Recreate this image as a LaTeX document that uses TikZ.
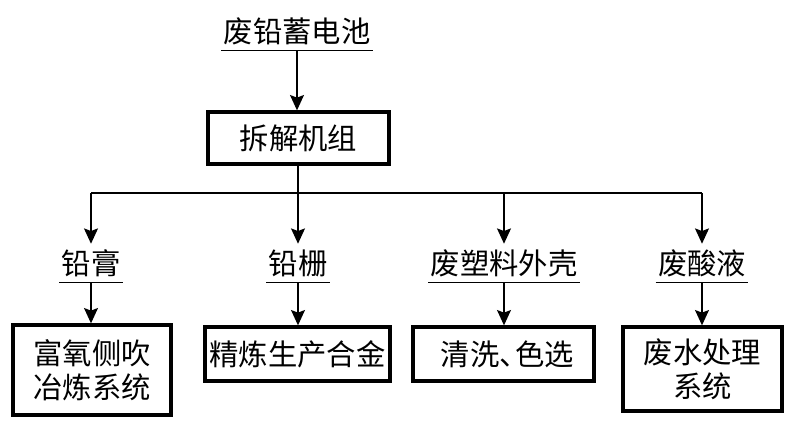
\documentclass[tikz,border=0pt]{standalone}
\usepackage{fontspec}
\newfontfamily\cjk{Noto Sans CJK SC}
\usetikzlibrary{arrows.meta}
\begin{document}
\begin{tikzpicture}[x=0.75pt,y=-0.75pt,
  every node/.style={font=\cjk\fontsize{22}{25.5}\selectfont, align=center},
  procbox/.style={draw, line width=2.5pt, inner sep=0pt},
  lab/.style={inner xsep=1.5pt, inner ysep=0pt, minimum height=28.5pt},
  conn/.style={line width=1.1pt},
  arr/.style={conn, -{Stealth[length=11.5pt, width=10.5pt, inset=2pt]}},
  uline/.style={line width=1.1pt}]
\useasboundingbox (0,0) rectangle (793,427);
% top
\node[lab] (t) at (297,31) {废铅蓄电池};
\draw[uline] (t.south west) -- (t.south east);
\node[procbox, minimum width=135.75pt, minimum height=39pt] (m) at (298.5,138) {拆解机组};
\draw[arr] (t.south) -- (t.south |- m.north);
% trunk
\coordinate (j) at (298,193);
\coordinate (hl) at (91,193);
\coordinate (hr) at (702,193);
\draw[conn] (m.south -| j) -- (j);
\draw[conn] (hl) -- (hr);
% labels
\node[lab] (l1) at (91,263) {铅膏};
\node[lab] (l2) at (298,263) {铅栅};
\node[lab] (l3) at (504,263) {废塑料外壳};
\node[lab] (l4) at (702,263) {废酸液};
\foreach \n in {l1,l2,l3,l4}{\draw[uline] (\n.south west) -- (\n.south east);}
\coordinate (c3) at (504,193);
\draw[arr] (hl) -- (l1.north);
\draw[arr] (j) -- (l2.north);
\draw[arr] (c3) -- (l3.north);
\draw[arr] (hr) -- (l4.north);
% bottom boxes
\node[procbox, minimum width=118.5pt, minimum height=67.5pt] (b1) at (92,370) {富氧侧吹\\冶炼系统};
\node[procbox, minimum width=138.75pt, minimum height=40.5pt] (b2) at (297.5,354) {精炼生产合金};
\node[procbox, minimum width=135.75pt, minimum height=40.5pt] (b3) at (503.5,354) {\hspace{6pt}清洗、\kern-0.45em色选};
\node[procbox, minimum width=119.25pt, minimum height=63pt] (b4) at (702.5,369) {废水处理\\系统};
\draw[arr] (l1.south) -- (l1.south |- b1.north);
\draw[arr] (l2.south) -- (l2.south |- b2.north);
\draw[arr] (l3.south) -- (l3.south |- b3.north);
\draw[arr] (l4.south) -- (l4.south |- b4.north);
\end{tikzpicture}
\end{document}
